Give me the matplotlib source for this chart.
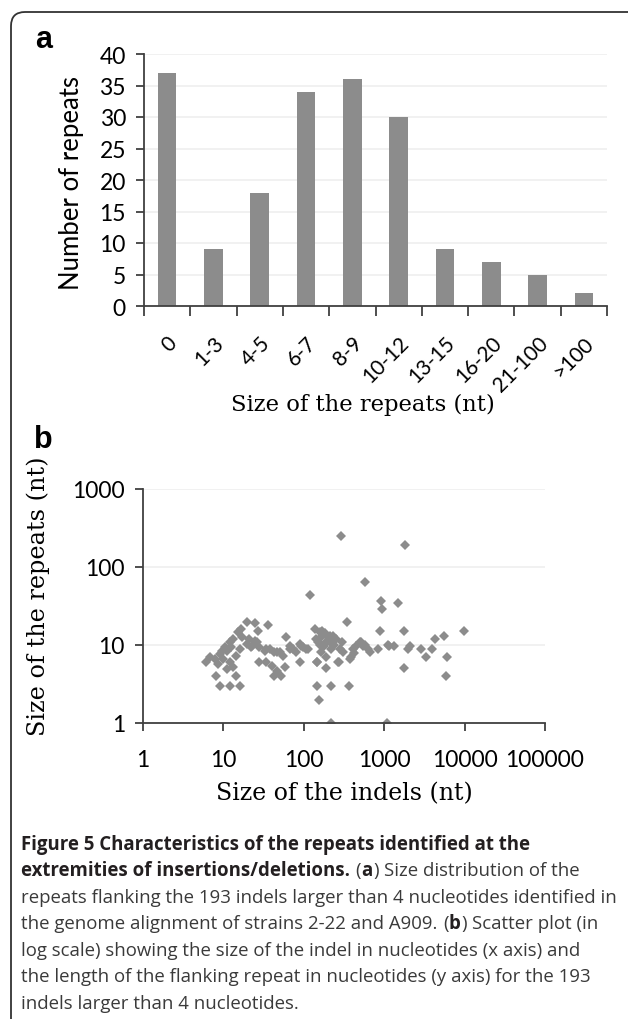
import matplotlib
matplotlib.use("Agg")
import matplotlib.pyplot as plt
from matplotlib.patches import FancyBboxPatch
from matplotlib.transforms import ScaledTranslation

# ---- data -------------------------------------------------------------
repeat_classes = ["0", "1-3", "4-5", "6-7", "8-9", "10-12", "13-15", "16-20", "21-100", ">100"]
repeat_counts = [37, 9, 18, 34, 36, 30, 9, 7, 5, 2]

indel_size = [6, 6.8, 7.8, 8, 8.6, 9, 9, 9.5, 9.9, 10.4, 11, 11, 12, 12, 12, 12.5, 13, 13,
              14.4, 14.5, 15, 16, 16.4, 16, 17, 19.5, 19.4, 21, 22, 23, 25, 25, 26, 27, 28,
              28, 33, 34, 34, 36, 38, 40, 42, 42, 46, 46, 50, 52, 55, 58, 60, 67, 67, 73, 81,
              89, 89, 93, 98, 107, 113, 120,
              137, 140, 145, 144, 146, 150, 155, 158, 160, 165, 165, 170, 180, 182, 190, 190,
              190, 200, 209, 210, 220, 220, 220, 230, 240, 253, 265, 275, 278, 290, 295, 305,
              340, 365, 374, 390, 405, 420, 450, 497, 510, 540, 570, 570, 630, 660, 840, 880,
              900, 930, 1080, 1100, 1150, 1320, 1500, 1750, 1760, 1800, 2000, 2100, 2900,
              3300, 3900, 4300, 5500, 5800, 6100, 9800]
repeat_size = [6, 7, 6.6, 4, 5.7, 3, 7.7, 8.5, 6.6, 9.3, 8.5, 4.9, 3, 10.8, 6, 9.3, 11.9, 5.2,
               4, 7.3, 14.5, 3, 16, 8.9, 12.5, 19.5, 10.3, 12, 9.3, 9.8, 19, 11.4, 10.8, 15, 9.3,
               6, 8.5, 6, 8.9, 18, 8.9, 5.4, 4, 8.1, 4.7, 8.1, 8.1, 4, 7.3, 5.2, 12.6, 9.8, 8.9,
               8.9, 8.1, 6, 10.3, 9.8, 9.3, 8.9, 8.9, 44,
               16, 12, 3, 6, 6, 10.8, 2, 14.5, 10, 12.6, 8.1, 15, 9.8, 14.4, 5, 7,
               11, 12.6, 10.8, 13, 1, 3, 8.9, 13.2, 10, 12, 6, 6, 8.9, 250, 10.8, 8.1,
               20, 3, 6.7, 7, 8.9, 7.9, 9.8, 11, 11, 9.8, 65, 10, 8.9, 8.1, 8.9, 15,
               37, 29, 1, 10, 9.8, 9.8, 35, 5, 15, 190, 8.9, 9.8, 9,
               7, 8.9, 12, 13, 4, 7, 15]

decades = [1, 10, 100, 1000, 10000, 100000]

caption_lines = [
    [("Figure 5 Characteristics of the repeats identified at the", "bold")],
    [("extremities of insertions/deletions.", "bold"), (" ", None), ("(", "normal"),
     ("a", "bold"), (")", "normal"), (" ", None), ("Size distribution of the", "normal")],
    [("repeats flanking the 193 indels larger than 4 nucleotides identified in", "normal")],
    [("the genome alignment of strains 2-22 and A909.", "normal"), (" ", None), ("(", "normal"),
     ("b", "bold"), (")", "normal"), (" ", None), ("Scatter plot (in", "normal")],
    [("log scale) showing the size of the indel in nucleotides (x axis) and", "normal")],
    [("the length of the flanking repeat in nucleotides (y axis) for the 193", "normal")],
    [("indels larger than 4 nucleotides.", "normal")],
]

# ---- style --------------------------------------------------------------
W, H = 628, 1020
GREY = "#8c8c8c"
AXIS = "#404040"
GRID = "#efefef"
SANS = ["Lato", "DejaVu Sans"]
SERIF = ["DejaVu Serif"]
CAP_FONT = ["Open Sans", "DejaVu Sans"]

plt.rcParams["font.family"] = SANS


def box(l, t, r, b):
    return [l / W, 1 - b / H, (r - l) / W, (b - t) / H]


def fx(x):
    return x / W


def fy(y):
    return 1 - y / H


def style_axes(ax):
    for s in ["top", "right"]:
        ax.spines[s].set_visible(False)
    for s in ["left", "bottom"]:
        ax.spines[s].set_color(AXIS)
        ax.spines[s].set_linewidth(1.3)
    ax.tick_params(colors=AXIS, labelcolor="black", labelsize=16.5, width=1.3, length=6, pad=7)
    ax.yaxis.grid(True, color=GRID, lw=1.2)
    ax.set_axisbelow(True)


fig = plt.figure(figsize=(W / 100, H / 100), dpi=100)

# rounded frame
fig.add_artist(FancyBboxPatch((11, -40), 700, H - 13 + 40, boxstyle="round,pad=0,rounding_size=14",
                              transform=None, fill=False, ec="#333333", lw=1.3))

# ---- panel a ----------------------------------------------------------
ax1 = fig.add_axes(box(144, 55, 607, 307))
style_axes(ax1)
pos = list(range(len(repeat_classes)))
ax1.bar(pos, repeat_counts, width=0.4, color=GREY)
ax1.set_xlim(-0.5, len(repeat_classes) - 0.5)
ax1.set_ylim(0, 40)
ax1.set_yticks(range(0, 41, 5))
ax1.set_xticks(pos)
ax1.set_xticks([p - 0.5 for p in pos] + [pos[-1] + 0.5], minor=True)
ax1.tick_params(axis="x", which="major", length=0, pad=24, labelsize=15)
ax1.tick_params(axis="x", which="minor", length=7, width=1.3, color=AXIS)
ax1.set_xticklabels(repeat_classes, rotation=45, ha="right", va="center", rotation_mode="anchor")
shift = ScaledTranslation(7 / 100, 0, fig.dpi_scale_trans)
for lab in ax1.get_xticklabels():
    lab.set_transform(lab.get_transform() + shift)

fig.text(fx(72), fy(183), "Number of repeats", rotation=90, ha="center", va="center", fontsize=18.5)
fig.text(fx(363), fy(405), "Size of the repeats (nt)", ha="center", va="center",
         fontsize=16.3, family=SERIF)
fig.text(fx(44), fy(40), "a", ha="center", va="center", fontsize=22, fontweight="bold",
         family=["Liberation Sans"])

# ---- panel b ----------------------------------------------------------
ax2 = fig.add_axes(box(143, 490, 545, 724))
style_axes(ax2)
ax2.plot(indel_size, repeat_size, ls="none", marker="D", ms=5.2, mew=0, color=GREY)
ax2.set_xscale("log")
ax2.set_yscale("log")
ax2.set_xlim(1, 100000)
ax2.set_ylim(1, 1000)
ax2.set_xticks(decades)
ax2.set_xticklabels([str(d) for d in decades])
ax2.set_yticks(decades[:4])
ax2.set_yticklabels([str(d) for d in decades[:4]])
ax2.minorticks_off()
ax2.tick_params(axis="x", pad=13)

fig.text(fx(38), fy(596), "Size of the repeats (nt)", rotation=90, ha="center", va="center",
         fontsize=17.2, family=SERIF)
fig.text(fx(344), fy(794), "Size of the indels (nt)", ha="center", va="center",
         fontsize=17, family=SERIF)
fig.text(fx(43), fy(440), "b", ha="center", va="center", fontsize=22, fontweight="bold",
         family=["Liberation Sans"])

# ---- caption -----------------------------------------------------------
renderer = fig.canvas.get_renderer()
probe = fig.text(0, 0, caption_lines[2][0][0], fontsize=10, family=CAP_FONT)
cap_size = 10 * 597 / probe.get_window_extent(renderer).width
probe.set_fontsize(cap_size)
probe.set_text("x x")
w2 = probe.get_window_extent(renderer).width
probe.set_text("xx")
space_w = w2 - probe.get_window_extent(renderer).width
probe.remove()

y = 850
for line in caption_lines:
    x = 21
    for txt, weight in line:
        if weight is None:
            x += space_w
            continue
        t = fig.text(fx(x), fy(y), txt, fontsize=cap_size, fontweight=weight, va="baseline",
                     family=CAP_FONT, color="#231f20" if weight == "bold" else "#3a3a3a")
        x += t.get_window_extent(renderer).width + 0.5
    y += 26.5

fig.savefig("out.png", dpi=100)
